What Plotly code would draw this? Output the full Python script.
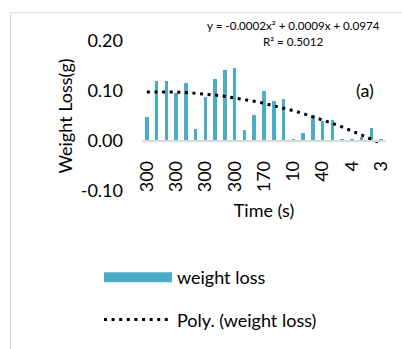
import plotly.graph_objects as go

# Data
bar_index = list(range(1, 26))
weight_loss = [0.049, 0.120, 0.120, 0.096, 0.116, 0.025, 0.089, 0.124, 0.142, 0.147,
               0.023, 0.052, 0.100, 0.080, 0.084, 0.004, 0.017, 0.052, 0.041, 0.042,
               0.004, 0.005, 0.009, 0.026, 0.003]
tick_positions = [1, 4, 7, 10, 13, 16, 19, 22, 25]
tick_labels = ["300", "300", "300", "300", "170", "10", "40", "4", "3"]
poly_coefs = [-0.0002, 0.0009, 0.0974]   # y = a x^2 + b x + c (Excel trendline)
y_ticks = [-0.10, 0.00, 0.10, 0.20]
y_tick_labels = ["-0.10", "0.00", "0.10", "0.20"]

trend = [poly_coefs[0] * x * x + poly_coefs[1] * x + poly_coefs[2] for x in bar_index]

BAR = "#4BACC6"
FONT = "Lato"
W, H = 402, 349
ML, MR, MT, MB = 142, 16, 41, 157
PW, PH = W - ML - MR, H - MT - MB

def px_x(p):
    return (p - ML) / PW

def px_y(p):
    return 1 - (p - MT) / PH

fig = go.Figure()
fig.add_trace(go.Bar(x=bar_index, y=weight_loss, marker=dict(color=BAR, line=dict(width=0)),
                     width=0.36, showlegend=False, name="weight loss"))
fig.add_trace(go.Scatter(x=[None], y=[None], mode="lines", name="weight loss",
                         line=dict(color=BAR, width=11.5), legendgroup="a"))
fig.add_trace(go.Scatter(x=bar_index, y=trend, mode="lines", name="Poly. (weight loss)",
                         line=dict(color="black", width=3, dash="3px,4.6px"), legendgroup="b"))

fig.update_layout(
    width=W, height=H,
    margin=dict(l=ML, r=MR, t=MT, b=MB),
    paper_bgcolor="white", plot_bgcolor="white",
    font=dict(family=FONT, size=18, color="#000000"),
    bargap=0,
    xaxis=dict(range=[0.5, 25.5], tickmode="array", tickvals=tick_positions, ticktext=tick_labels,
               tickangle=-90, showgrid=False, zeroline=False, showline=True,
               linecolor="#D9D9D9", linewidth=1.5, anchor="free", position=1/3,
               ticks="", ticklabelstandoff=12, automargin=False,
               title=dict(text="Time (s)", standoff=12, font=dict(size=18))),
    yaxis=dict(range=[-0.10, 0.20], tickmode="array", tickvals=y_ticks, ticktext=y_tick_labels,
               showgrid=False, zeroline=False, showline=False, ticks="",
               ticklabelstandoff=18, automargin=False,
               title=dict(text="Weight Loss(g)", standoff=3, font=dict(size=18))),
    legend=dict(x=px_x(99), y=px_y(259), xanchor="left", yanchor="top",
                itemwidth=68, tracegroupgap=16, font=dict(size=18),
                bgcolor="rgba(0,0,0,0)"),
    shapes=[dict(type="rect", xref="paper", yref="paper",
                 x0=px_x(10.5), x1=px_x(420), y0=px_y(370), y1=px_y(12.5),
                 line=dict(color="#D9D9D9", width=1), fillcolor="rgba(0,0,0,0)", layer="below")],
    annotations=[
        dict(text="y = -0.0002x² + 0.0009x + 0.0974", xref="paper", yref="paper",
             x=px_x(293.5), y=px_y(25), xanchor="center", yanchor="middle",
             showarrow=False, font=dict(size=11.6)),
        dict(text="R² = 0.5012", xref="paper", yref="paper",
             x=px_x(292.5), y=px_y(42), xanchor="center", yanchor="middle",
             showarrow=False, font=dict(size=11.6)),
        dict(text="(a)", xref="paper", yref="paper",
             x=px_x(365), y=px_y(90.5), xanchor="center", yanchor="middle",
             showarrow=False, font=dict(size=18)),
    ],
)

fig.write_html("out.html")
